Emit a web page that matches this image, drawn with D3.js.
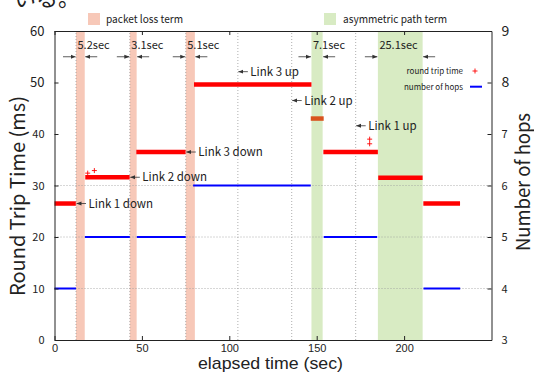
<!DOCTYPE html>
<html><head><meta charset="utf-8">
<script src="https://cdn.jsdelivr.net/npm/d3@7"></script>
<style>body{margin:0;background:#fff}svg{display:block}text{font-family:"Noto Sans CJK JP","Noto Sans",sans-serif;fill:#222}</style>
</head><body>
<script>
// ---- data ----
const xTicks = [0, 50, 100, 150, 200];
const rttTicks = [0, 10, 20, 30, 40, 50, 60];
const hopTicks = [3, 4, 5, 6, 7, 8, 9];
// round trip time plateaus: [start sec, end sec, rtt ms]
const rttSegments = [[0, 12.2, 26.5], [17.6, 43.0, 31.6], [46.8, 75.0, 36.5], [79.8, 147.0, 49.6],
  [146.6, 154.0, 43.0], [153.8, 185.0, 36.5], [185.2, 210.6, 31.5], [211.0, 232.0, 26.5]];
const rttOutliers = [[19.0, 32.4], [22.8, 32.9], [180.3, 39.0], [180.3, 38.1]];
// number of hops: [start, end, hops]
const hopSegments = [[0, 12.3, 4], [17.4, 43.1, 5], [47.1, 75.1, 5], [79.3, 146.6, 6], [154.0, 184.6, 5], [211.1, 232.1, 4]];
const lossTerms = [[12.3, 17.3, "5.2sec"], [43.1, 47.0, "3.1sec"], [75.1, 80.3, "5.1sec"]];
const asymTerms = [[147.0, 153.4, "7.1sec"], [185.0, 210.6, "25.1sec"]];
const eventTimes = [12.3, 43.1, 75.1, 104.9, 135.7, 172.3];
const downLabels = [["Link 1 down", 12.3, 26.5], ["Link 2 down", 43.1, 31.6], ["Link 3 down", 75.1, 36.5]];
const upLabels = [["Link 3 up", 104.9, 52.1], ["Link 2 up", 135.7, 46.5], ["Link 1 up", 172.3, 41.6]];
const gridRtt = [10, 20, 30];

// ---- chart ----
const W = 534, H = 374;
const svg = d3.select("body").append("svg").attr("width", W).attr("height", H);
const x = d3.scaleLinear().domain([0, 250]).range([54.5, 491.5]);
const y = d3.scaleLinear().domain([0, 60]).range([340, 31]);
const yh = d3.scaleLinear().domain([3, 9]).range([340, 31]);

const defs = svg.append("defs");
defs.append("marker").attr("id", "ah").attr("viewBox", "0 -3 6 6").attr("refX", 6).attr("refY", 0)
  .attr("markerWidth", 5).attr("markerHeight", 5).attr("markerUnits", "userSpaceOnUse").attr("orient", "auto")
  .append("path").attr("d", "M0,-2.5L6,0L0,2.5Z").attr("fill", "#333");

// partial text at very top (cropped from document)
svg.append("text").attr("x", 14).attr("y", 6).style("font-size", "22px").text("いる。");

// bands
svg.append("g").selectAll("rect").data(lossTerms).join("rect")
  .attr("x", d => x(d[0])).attr("width", d => x(d[1]) - x(d[0])).attr("y", y(60)).attr("height", y(0) - y(60))
  .attr("fill", "rgb(247,200,184)");
svg.append("g").selectAll("rect").data(asymTerms).join("rect")
  .attr("x", d => x(d[0])).attr("width", d => x(d[1]) - x(d[0])).attr("y", y(60)).attr("height", y(0) - y(60))
  .attr("fill", "rgb(216,235,195)");

// grid
svg.append("g").selectAll("line").data(gridRtt).join("line")
  .attr("x1", x(0)).attr("x2", x(250)).attr("y1", d => y(d)).attr("y2", d => y(d))
  .attr("stroke", "#999").attr("stroke-width", 0.8).attr("stroke-dasharray", "1,2");
svg.append("g").selectAll("line").data(eventTimes).join("line")
  .attr("x1", d => x(d)).attr("x2", d => x(d)).attr("y1", y(0)).attr("y2", y(60))
  .attr("stroke", "#999").attr("stroke-width", 0.8).attr("stroke-dasharray", "1,2");

// rtt plateaus (the one inside the short asymmetric term is rendered more orange as in the source)
const inShortAsym = d => (d[0] + d[1]) / 2 > asymTerms[0][0] && (d[0] + d[1]) / 2 < asymTerms[0][1];
svg.append("g").selectAll("line").data(rttSegments).join("line")
  .attr("x1", d => x(d[0])).attr("x2", d => x(d[1])).attr("y1", d => y(d[2])).attr("y2", d => y(d[2]))
  .attr("stroke", d => inShortAsym(d) ? "#d9531e" : "#ff0000").attr("stroke-width", 4.5);
const plus = (g, cx, cy, s) => g.append("path").attr("d", `M${cx - s},${cy}H${cx + s}M${cx},${cy - s}V${cy + s}`)
  .attr("stroke", "#ff0000").attr("stroke-width", 0.9).attr("fill", "none");
const og = svg.append("g");
rttOutliers.forEach(d => plus(og, x(d[0]), y(d[1]), 2.5));

// hops
svg.append("g").selectAll("line").data(hopSegments).join("line")
  .attr("x1", d => x(d[0])).attr("x2", d => x(d[1])).attr("y1", d => yh(d[2])).attr("y2", d => yh(d[2]))
  .attr("stroke", "#0000ff").attr("stroke-width", 2);

// term duration arrows & labels
const terms = lossTerms.concat(asymTerms);
const ta = svg.append("g");
terms.forEach(d => {
  const a = x(d[0]), b = x(d[1]), yy = y(55);
  ta.append("line").attr("x1", a - 13).attr("x2", a - 0.5).attr("y1", yy).attr("y2", yy)
    .attr("stroke", "#333").attr("stroke-width", 0.8).attr("marker-end", "url(#ah)");
  ta.append("line").attr("x1", b + 12.5).attr("x2", b + 0.5).attr("y1", yy).attr("y2", yy)
    .attr("stroke", "#333").attr("stroke-width", 0.8).attr("marker-end", "url(#ah)");
  ta.append("text").attr("x", a + 1.5).attr("y", y(57.3)).attr("dy", "0.36em")
    .style("font-size", "11px").text(d[2]);
});

// link annotations
const la = svg.append("g");
downLabels.concat(upLabels).forEach(d => {
  const tip = x(d[1]) + 0.5, yy = y(d[2]);
  la.append("line").attr("x1", tip + 9.5).attr("x2", tip).attr("y1", yy).attr("y2", yy)
    .attr("stroke", "#333").attr("stroke-width", 0.8).attr("marker-end", "url(#ah)");
  la.append("text").attr("x", tip + 12).attr("y", yy).attr("dy", "0.36em")
    .style("font-size", "11.5px").text(d[0]);
});

// axes
const axB = svg.append("g").attr("transform", `translate(0,${y(0)})`)
  .call(d3.axisBottom(x).tickValues(xTicks).tickSizeInner(-4).tickSizeOuter(0).tickPadding(4));
const axT = svg.append("g").attr("transform", `translate(0,${y(60)})`)
  .call(d3.axisTop(x).tickValues(xTicks).tickSizeInner(-4).tickSizeOuter(0).tickFormat(""));
const axL = svg.append("g").attr("transform", `translate(${x(0)},0)`)
  .call(d3.axisLeft(y).tickValues(rttTicks).tickSizeInner(-4).tickSizeOuter(0).tickPadding(10));
const axR = svg.append("g").attr("transform", `translate(${x(250)},0)`)
  .call(d3.axisRight(yh).tickValues(hopTicks).tickFormat(d3.format("d")).tickSizeInner(-4).tickSizeOuter(0).tickPadding(10));
[axB, axT, axL, axR].forEach(a => {
  a.select(".domain").attr("stroke", "#222").attr("stroke-width", 1);
  a.selectAll(".tick line").attr("stroke", "#222");
  a.selectAll("text").attr("fill", "#222").style("font-family", '"Noto Sans CJK JP","Noto Sans",sans-serif');
});
axB.selectAll("text").style("font-size", "11px").style("font-family", '"Liberation Sans",sans-serif');
axL.selectAll("text").style("font-size", d => d >= 50 ? "13px" : "11px");
axR.selectAll("text").style("font-size", d => d >= 8 ? "14px" : "11px");

// axis titles
svg.append("text").attr("x", 270.5).attr("y", 369).attr("text-anchor", "middle")
  .style("font-family", '"Liberation Sans",sans-serif')
  .style("font-size", "17px").attr("textLength", 145).attr("lengthAdjust", "spacingAndGlyphs").text("elapsed time (sec)");
svg.append("text").attr("transform", "translate(25,196) rotate(-90)").attr("text-anchor", "middle")
  .style("font-size", "20px").attr("textLength", 200).attr("lengthAdjust", "spacingAndGlyphs").text("Round Trip Time (ms)");
svg.append("text").attr("transform", "translate(530,182) rotate(-90)").attr("text-anchor", "middle")
  .style("font-size", "19px").attr("textLength", 138).attr("lengthAdjust", "spacingAndGlyphs").text("Number of hops");

// top legend
const tl = svg.append("g");
tl.append("rect").attr("x", 88).attr("y", 13).attr("width", 12).attr("height", 12).attr("fill", "rgb(247,200,184)");
tl.append("text").attr("x", 106).attr("y", 19).attr("dy", "0.36em").style("font-size", "11px")
  .attr("textLength", 77).attr("lengthAdjust", "spacingAndGlyphs").text("packet loss term");
tl.append("rect").attr("x", 324).attr("y", 13).attr("width", 12).attr("height", 12).attr("fill", "rgb(216,235,195)");
tl.append("text").attr("x", 343).attr("y", 19).attr("dy", "0.36em").style("font-size", "11px")
  .attr("textLength", 104).attr("lengthAdjust", "spacingAndGlyphs").text("asymmetric path term");

// inner legend
const il = svg.append("g");
il.append("text").attr("x", 463).attr("y", 71).attr("dy", "0.36em").attr("text-anchor", "end")
  .style("font-size", "8px").text("round trip time");
plus(il, 475, 71, 2.5);
il.append("text").attr("x", 463).attr("y", 86.7).attr("dy", "0.36em").attr("text-anchor", "end")
  .style("font-size", "8px").text("number of hops");
il.append("line").attr("x1", 470).attr("x2", 482).attr("y1", 86.7).attr("y2", 86.7)
  .attr("stroke", "#0000ff").attr("stroke-width", 2);
</script>
</body></html>
